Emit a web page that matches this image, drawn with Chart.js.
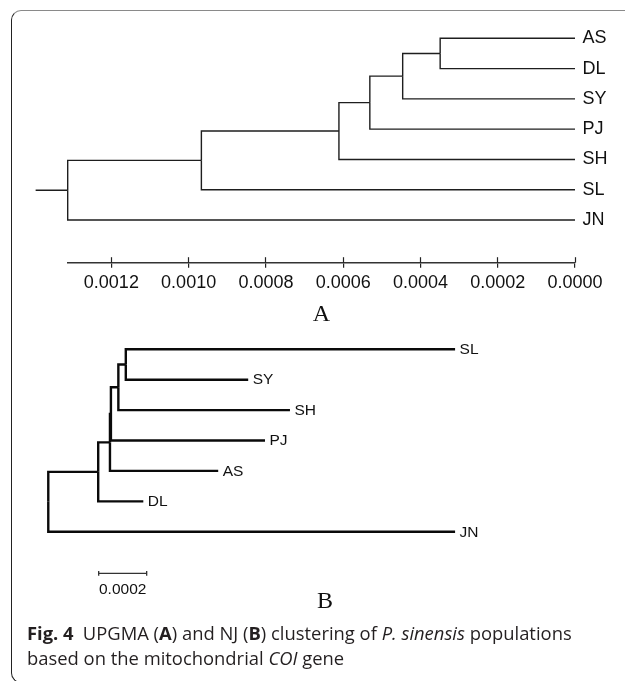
<!DOCTYPE html>
<html><head><meta charset="utf-8">
<script src="https://cdn.jsdelivr.net/npm/chart.js@4.4.1/dist/chart.umd.min.js"></script>
<style>
html,body{margin:0;padding:0;background:#fff;width:625px;height:681px;overflow:hidden;position:relative;}
#frame{position:absolute;left:11px;top:10px;width:700px;height:673px;border-top:1.3px solid #8a8a8a;border-left:1.5px solid #222;border-bottom:1.5px solid #222;border-radius:10px 0 0 10px;box-sizing:border-box;}
canvas{position:absolute;left:0;}
#cA{top:0}
#cB{top:330px}
#cap{position:absolute;left:27px;top:620px;width:595px;font-family:'Open Sans',sans-serif;font-size:18.4px;line-height:25px;color:#231f20;white-space:nowrap;}
</style></head><body>
<div id="frame"></div>
<canvas id="cA" width="625" height="335"></canvas>
<canvas id="cB" width="625" height="290"></canvas>
<div id="cap"><b>Fig. 4</b>&ensp;UPGMA (<b>A</b>) and NJ (<b>B</b>) clustering of <i>P. sinensis</i> populations<br>based on the mitochondrial <i>COI</i> gene</div>
<script>
// ---------- Data ----------
// UPGMA (A): leaves top to bottom, successive join heights (AS+DL, +SY, +PJ, +SH, +SL, +JN)
const upgmaLeaves = ['AS','DL','SY','PJ','SH','SL','JN'];
const upgmaJoinHeights = [0.000349, 0.000446, 0.000531, 0.000611, 0.000967, 0.001313];
const upgmaRootStub = 0.000083;
const upgmaTicks = [0.0012, 0.0010, 0.0008, 0.0006, 0.0004, 0.0002, 0.0000];

// NJ (B): leaves top to bottom, their depth from root, successive join depths
// joins: SL+SY, +SH, +PJ, +AS, +DL, +JN (root)
const njLeaves = ['SL','SY','SH','PJ','AS','DL','JN'];
const njLeafDepths = [0.001695, 0.000833, 0.001007, 0.000903, 0.000708, 0.000396, 0.001695];
const njJoinDepths = [0.000323, 0.000292, 0.000261, 0.000257, 0.000208, 0];
const njScaleBarLength = 0.0002;
const njScaleBarLabel = '0.0002';

// ---------- Helpers ----------
function ladderEdges(leafX, joinX) {
  const edges = [];
  let cur = {x: leafX[0], y: 0};
  for (let k = 0; k < joinX.length; k++) {
    const leaf = {x: leafX[k + 1], y: k + 1};
    const node = {x: joinX[k], y: (cur.y + leaf.y) / 2};
    edges.push([cur, {x: node.x, y: cur.y}, node]);
    edges.push([leaf, {x: node.x, y: leaf.y}, node]);
    cur = node;
  }
  return {edges, root: cur};
}
function lineDs(points, color, width) {
  return {data: points, showLine: true, borderColor: color, borderWidth: width,
          pointRadius: 0, pointHoverRadius: 0, tension: 0, clip: false, fill: false,
          borderCapStyle: 'butt', borderJoinStyle: 'miter'};
}
const SANS = "'Liberation Sans', Arial, Helvetica, sans-serif";
const SERIF = "'Liberation Serif', 'Times New Roman', serif";

// ---------- Chart A (UPGMA) ----------
const treeA = ladderEdges(upgmaLeaves.map(() => 0), upgmaJoinHeights);
const colA = '#1e1e1e';
const dsA = treeA.edges.map(e => lineDs(e, colA, 1.4));
dsA.push(lineDs([{x: treeA.root.x, y: treeA.root.y}, {x: treeA.root.x + upgmaRootStub, y: treeA.root.y}], colA, 1.4));

const tickUp = {
  id: 'tickUp',
  afterDraw(chart) {
    const xs = chart.scales.x, ctx = chart.ctx, yb = chart.chartArea.bottom;
    ctx.save();
    ctx.strokeStyle = '#222'; ctx.lineWidth = 1.2;
    xs.ticks.forEach(t => {
      const px = Math.round(xs.getPixelForValue(t.value) - 0.5) + 0.5;
      ctx.beginPath(); ctx.moveTo(px, yb - 5.5); ctx.lineTo(px, yb); ctx.stroke();
    });
    ctx.restore();
  }
};

new Chart(document.getElementById('cA'), {
  type: 'scatter',
  data: {datasets: dsA},
  options: {
    responsive: false, animation: false, events: [],
    layout: {padding: {left: 67.7, top: 23.16, right: 0, bottom: 0}},
    plugins: {legend: {display: false}, tooltip: {enabled: false}},
    scales: {
      x: {
        type: 'linear', reverse: true, min: 0, max: treeA.root.x,
        afterBuildTicks: s => { s.ticks = upgmaTicks.map(v => ({value: v})); },
        afterFit: s => { s.height = 72.3; },
        grid: {display: true, drawOnChartArea: false, drawTicks: true, tickLength: 5, color: '#222', lineWidth: 1.2},
        border: {display: true, color: '#333', width: 1.4},
        ticks: {padding: 4.8, color: '#111', font: {family: SANS, size: 18}, autoSkip: false, maxRotation: 0,
                callback: v => Number(v).toFixed(4)},
        title: {display: true, text: 'A', color: '#111', font: {family: SERIF, size: 24}, padding: {top: 0, bottom: 5.6}}
      },
      y: {
        type: 'linear', position: 'right', reverse: true, min: -0.5, max: 7.41,
        afterBuildTicks: s => { s.ticks = upgmaLeaves.map((_, i) => ({value: i})); },
        afterFit: s => { s.width = 50; },
        grid: {display: false, drawTicks: false}, border: {display: false},
        ticks: {padding: 7.5, color: '#111', font: {family: SANS, size: 18}, autoSkip: false,
                callback: v => upgmaLeaves[v]}
      }
    }
  },
  plugins: [tickUp]
});

// ---------- Chart B (NJ) ----------
const treeB = ladderEdges(njLeafDepths, njJoinDepths);
const colB = '#0a0a0a';
const dsB = treeB.edges.map(e => lineDs(e, colB, 2.4));
const barStart = 0.00021, barY = 7.37, barTick = 0.08;
dsB.push(lineDs([
  {x: barStart, y: barY - barTick}, {x: barStart, y: barY + barTick}, {x: NaN, y: NaN},
  {x: barStart, y: barY}, {x: barStart + njScaleBarLength, y: barY}, {x: NaN, y: NaN},
  {x: barStart + njScaleBarLength, y: barY - barTick}, {x: barStart + njScaleBarLength, y: barY + barTick}
], '#333', 1.3));

const njLabels = {
  id: 'njLabels',
  afterDatasetsDraw(chart) {
    const xs = chart.scales.x, ys = chart.scales.y, ctx = chart.ctx;
    ctx.save();
    ctx.fillStyle = '#111';
    ctx.font = '15.5px ' + SANS;
    ctx.textBaseline = 'middle'; ctx.textAlign = 'left';
    njLeaves.forEach((n, i) => {
      ctx.fillText(n, xs.getPixelForValue(njLeafDepths[i]) + 4.5, ys.getPixelForValue(i) + 0.5);
    });
    ctx.textAlign = 'center';
    ctx.fillText(njScaleBarLabel, xs.getPixelForValue(barStart + njScaleBarLength / 2), ys.getPixelForValue(barY) + 16.5);
    ctx.restore();
  }
};

new Chart(document.getElementById('cB'), {
  type: 'scatter',
  data: {datasets: dsB},
  options: {
    responsive: false, animation: false, events: [],
    layout: {padding: {left: 25, top: 4.1, right: 0, bottom: 0}},
    plugins: {legend: {display: false}, tooltip: {enabled: false}},
    scales: {
      x: {
        type: 'linear', min: -0.000097, max: 0.002403,
        afterFit: s => { s.height = 30.5; },
        grid: {display: false, drawTicks: false}, border: {display: false},
        ticks: {display: false},
        title: {display: true, text: 'B', color: '#111', font: {family: SERIF, size: 24}, padding: {top: 0, bottom: 3.6}}
      },
      y: {type: 'linear', reverse: true, min: -0.5, max: 7.9, display: false}
    }
  },
  plugins: [njLabels]
});
</script>
</body></html>
